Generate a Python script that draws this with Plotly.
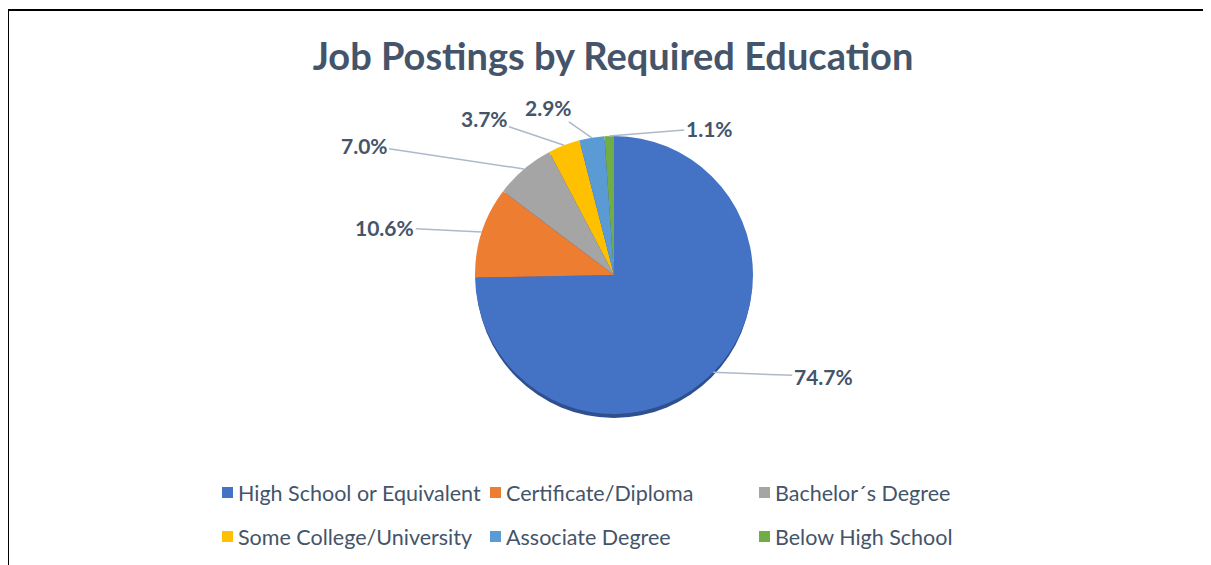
import math
import plotly.graph_objects as go

# data
categories = [
    "High School or Equivalent",
    "Certificate/Diploma",
    "Bachelor´s Degree",
    "Some College/University",
    "Associate Degree",
    "Below High School",
]
shares = [74.7, 10.6, 7.0, 3.7, 2.9, 1.1]
colors = ["#4472C4", "#ED7D31", "#A5A5A5", "#FFC000", "#5B9BD5", "#70AD47"]

# label offsets (pixels) from the slice edge point
label_offsets = [(110, 4), (-97, -5), (-160, -24), (-80, -27), (-43, -30), (100, -8)]

# page body has an 8px margin, so work in page pixels and shift
OFF = 8
W, H = 1211 - OFF, 565 - OFF
CX, CY, R = 614 - OFF, 275 - OFF, 139
TEXT = "#44546A"


def px(x):
    return (x - OFF) / W


def py(y):
    return 1 - (y - OFF) / H


fig = go.Figure()
fig.add_trace(
    go.Pie(
        labels=categories,
        values=shares,
        sort=False,
        direction="clockwise",
        rotation=0,
        marker=dict(colors=colors, line=dict(width=0)),
        textinfo="none",
        showlegend=False,
        hovertemplate="%{label}: %{value}%<extra></extra>",
        domain=dict(x=[(CX - R) / W, (CX + R) / W], y=[1 - (CY + R) / H, 1 - (CY - R) / H]),
    )
)

# outside labels with leader lines pointing at each slice's mid-angle
total = sum(shares)
acc = 0
annotations = []
for val, (dx, dy) in zip(shares, label_offsets):
    mid = (acc + val / 2) / total * 2 * math.pi
    acc += val
    ex = CX + R * math.sin(mid)
    ey = CY - R * math.cos(mid)
    annotations.append(
        dict(
            x=ex / W,
            y=1 - ey / H,
            xref="paper",
            yref="paper",
            text="<b>%.1f%%</b>" % val,
            showarrow=True,
            arrowhead=0,
            arrowwidth=1.5,
            arrowcolor="#ADB9CA",
            ax=dx,
            ay=dy,
            font=dict(family="Lato", size=21, color=TEXT),
        )
    )

# legend drawn as a fixed 3-column grid like the original
legend_cols = [222, 490, 759]
legend_rows = [493, 537]
shapes = [
    dict(type="line", xref="paper", yref="paper", x0=px(8), x1=1, y0=py(10), y1=py(10),
         line=dict(color="black", width=2)),
    dict(type="line", xref="paper", yref="paper", x0=px(8), x1=px(8), y0=py(10), y1=0,
         line=dict(color="black", width=2)),
    # soft bottom rim under the pie
    dict(type="circle", xref="paper", yref="paper", layer="below",
         x0=(CX - R + 1) / W, x1=(CX + R - 1) / W, y0=1 - (CY + R + 4) / H, y1=1 - (CY - R + 4) / H,
         fillcolor="#2F4F8F", line=dict(width=0)),
]
for i, (name, col) in enumerate(zip(categories, colors)):
    lx = legend_cols[i % 3]
    ly = legend_rows[i // 3]
    shapes.append(
        dict(type="rect", xref="paper", yref="paper",
             x0=px(lx), x1=px(lx + 11), y0=py(ly - 6), y1=py(ly + 5),
             fillcolor=col, line=dict(width=0))
    )
    annotations.append(
        dict(x=px(lx + 14), y=py(ly), xref="paper", yref="paper",
             xanchor="left", yanchor="middle", text=name, showarrow=False,
             font=dict(family="Lato", size=21.5, color=TEXT))
    )

fig.update_layout(
    width=W,
    height=H,
    margin=dict(l=0, r=0, t=0, b=0),
    paper_bgcolor="white",
    plot_bgcolor="white",
    showlegend=False,
    title=dict(
        text="<b>Job Postings by Required Education</b>",
        x=px(613),
        xanchor="center",
        y=py(57),
        yanchor="middle",
        font=dict(family="Lato", size=38, color=TEXT),
    ),
    annotations=annotations,
    shapes=shapes,
)

fig.write_html("out.html", config={"displayModeBar": False})
